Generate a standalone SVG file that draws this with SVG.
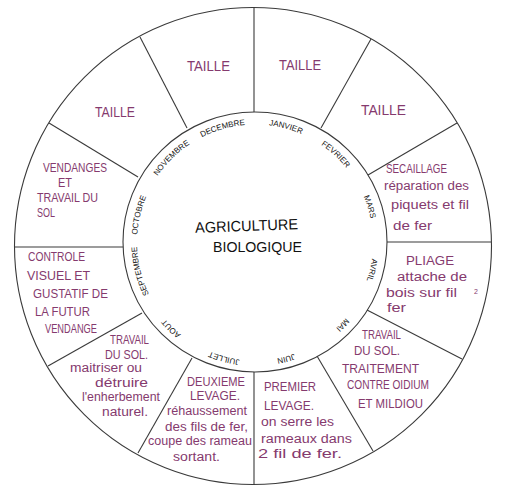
<svg xmlns="http://www.w3.org/2000/svg" xmlns:xlink="http://www.w3.org/1999/xlink" width="508" height="496" viewBox="0 0 508 496">
<style>
  .ln{fill:none;stroke:#3a3a3a;stroke-width:1.1}
  .t{font-family:"Liberation Sans",Arial,sans-serif;fill:#853a6e;font-size:12px}
  .c{font-size:13px}
  .ta{font-size:15px}
  .m{font-family:"Liberation Sans",Arial,sans-serif;fill:#111;font-size:8px;text-anchor:middle}
  .ctr{font-family:"Liberation Sans",Arial,sans-serif;fill:#111;font-size:15px}
</style>
<defs>
  <path id="mp" d="M 255 124.5 A 118 118 0 1 1 255 360.5 A 118 118 0 1 1 255 124.5"/>
</defs>
<rect width="508" height="496" fill="#fff"/>
<g id="wheel">
  <circle class="ln" cx="253" cy="246" r="238.5"/>
  <ellipse class="ln" cx="255" cy="242" rx="132" ry="130"/>
</g>
<g id="connectors">
  <line class="ln" x1="254" y1="7" x2="254" y2="112"/>
  <line class="ln" x1="371" y1="39" x2="321" y2="128"/>
  <line class="ln" x1="457" y1="123" x2="368" y2="175"/>
  <line class="ln" x1="491" y1="242" x2="387" y2="242"/>
  <line class="ln" x1="462" y1="359" x2="367" y2="310"/>
  <line class="ln" x1="373" y1="451" x2="317" y2="356"/>
  <line class="ln" x1="254" y1="485" x2="254" y2="372"/>
  <line class="ln" x1="138" y1="453" x2="192" y2="358"/>
  <line class="ln" x1="48" y1="366" x2="142" y2="313"/>
  <line class="ln" x1="15" y1="247" x2="123" y2="247"/>
  <line class="ln" x1="49" y1="123" x2="138" y2="177"/>
  <line class="ln" x1="140" y1="37" x2="187" y2="128"/>
</g>
<g id="months">
  <text class="m"><textPath xlink:href="#mp" href="#mp" startOffset="4.17%">JANVIER</textPath></text>
  <text class="m"><textPath xlink:href="#mp" href="#mp" startOffset="11.8%">FEVRIER</textPath></text>
  <text class="m"><textPath xlink:href="#mp" href="#mp" startOffset="20.2%">MARS</textPath></text>
  <text class="m"><textPath xlink:href="#mp" href="#mp" startOffset="28.7%">AVRIL</textPath></text>
  <text class="m"><textPath xlink:href="#mp" href="#mp" startOffset="37%">MAI</textPath></text>
  <text class="m"><textPath xlink:href="#mp" href="#mp" startOffset="45.83%">JUIN</textPath></text>
  <text class="m"><textPath xlink:href="#mp" href="#mp" startOffset="54.17%">JUILLET</textPath></text>
  <text class="m"><textPath xlink:href="#mp" href="#mp" startOffset="62.3%">AOUT</textPath></text>
  <text class="m"><textPath xlink:href="#mp" href="#mp" startOffset="71.1%">SEPTEMBRE</textPath></text>
  <text class="m"><textPath xlink:href="#mp" href="#mp" startOffset="78.7%">OCTOBRE</textPath></text>
  <text class="m"><textPath xlink:href="#mp" href="#mp" startOffset="87.6%">NOVEMBRE</textPath></text>
  <text class="m"><textPath xlink:href="#mp" href="#mp" startOffset="95.6%">DECEMBRE</textPath></text>
</g>
<g id="center">
  <text class="ctr" x="195" y="231" textLength="103" lengthAdjust="spacingAndGlyphs" transform="rotate(-2 246 226)">AGRICULTURE</text>
  <text class="ctr" x="213" y="252" textLength="89" lengthAdjust="spacingAndGlyphs">BIOLOGIQUE</text>
</g>
<g id="s-janvier">
  <text class="t ta" x="279" y="70" textLength="42" lengthAdjust="spacingAndGlyphs">TAILLE</text>
</g>
<g id="s-fevrier">
  <text class="t ta" x="361" y="115" textLength="45" lengthAdjust="spacingAndGlyphs">TAILLE</text>
</g>
<g id="s-mars">
  <text class="t c" x="386" y="173" textLength="61" lengthAdjust="spacingAndGlyphs">SECAILLAGE</text>
  <text class="t" x="384" y="190" textLength="85" lengthAdjust="spacingAndGlyphs">réparation des</text>
  <text class="t" x="391" y="209" textLength="78" lengthAdjust="spacingAndGlyphs">piquets et fil</text>
  <text class="t" x="393" y="230" textLength="39" lengthAdjust="spacingAndGlyphs">de fer</text>
</g>
<g id="s-avril">
  <text class="t c" x="406" y="265" textLength="48" lengthAdjust="spacingAndGlyphs">PLIAGE</text>
  <text class="t" x="397" y="281" textLength="70" lengthAdjust="spacingAndGlyphs">attache de</text>
  <text class="t" x="386" y="297" textLength="71" lengthAdjust="spacingAndGlyphs">bois sur fil</text>
  <text class="t" x="474" y="294" style="font-size:7px">2</text>
  <text class="t" x="387" y="312" textLength="19" lengthAdjust="spacingAndGlyphs">fer</text>
</g>
<g id="s-mai">
  <text class="t c" x="362" y="339" textLength="39" lengthAdjust="spacingAndGlyphs">TRAVAIL</text>
  <text class="t c" x="354" y="355" textLength="46" lengthAdjust="spacingAndGlyphs">DU SOL.</text>
  <text class="t c" x="342" y="373" textLength="77" lengthAdjust="spacingAndGlyphs">TRAITEMENT</text>
  <text class="t c" x="347" y="389" textLength="82" lengthAdjust="spacingAndGlyphs">CONTRE OIDIUM</text>
  <text class="t c" x="358" y="408" textLength="65" lengthAdjust="spacingAndGlyphs">ET MILDIOU</text>
</g>
<g id="s-juin">
  <text class="t c" x="264" y="391" textLength="52" lengthAdjust="spacingAndGlyphs">PREMIER</text>
  <text class="t c" x="264" y="410" textLength="50" lengthAdjust="spacingAndGlyphs">LEVAGE.</text>
  <text class="t" x="261" y="426" textLength="73" lengthAdjust="spacingAndGlyphs">on serre les</text>
  <text class="t" x="261" y="443" textLength="91" lengthAdjust="spacingAndGlyphs">rameaux dans</text>
  <text class="t" x="258" y="458" textLength="84" lengthAdjust="spacingAndGlyphs">2 fil de fer.</text>
</g>
<g id="s-juillet">
  <text class="t c" x="187" y="386" textLength="58" lengthAdjust="spacingAndGlyphs">DEUXIEME</text>
  <text class="t c" x="190" y="400" textLength="50" lengthAdjust="spacingAndGlyphs">LEVAGE.</text>
  <text class="t" x="167" y="415" textLength="80" lengthAdjust="spacingAndGlyphs">réhaussement</text>
  <text class="t" x="165" y="431" textLength="83" lengthAdjust="spacingAndGlyphs">des fils de fer,</text>
  <text class="t" x="148" y="445" textLength="104" lengthAdjust="spacingAndGlyphs">coupe des rameau</text>
  <text class="t" x="173" y="461" textLength="47" lengthAdjust="spacingAndGlyphs">sortant.</text>
</g>
<g id="s-aout">
  <text class="t c" x="110" y="344" textLength="39" lengthAdjust="spacingAndGlyphs">TRAVAIL</text>
  <text class="t c" x="105" y="359" textLength="43" lengthAdjust="spacingAndGlyphs">DU SOL.</text>
  <text class="t" x="70" y="372" textLength="72" lengthAdjust="spacingAndGlyphs">maitriser ou</text>
  <text class="t" x="95" y="387" textLength="53" lengthAdjust="spacingAndGlyphs">détruire</text>
  <text class="t" x="82" y="401" textLength="78" lengthAdjust="spacingAndGlyphs">l'enherbement</text>
  <text class="t" x="102" y="416" textLength="46" lengthAdjust="spacingAndGlyphs">naturel.</text>
</g>
<g id="s-septembre">
  <text class="t c" x="28" y="261" textLength="57" lengthAdjust="spacingAndGlyphs">CONTROLE</text>
  <text class="t c" x="27" y="280" textLength="63" lengthAdjust="spacingAndGlyphs">VISUEL ET</text>
  <text class="t c" x="33" y="298" textLength="75" lengthAdjust="spacingAndGlyphs">GUSTATIF DE</text>
  <text class="t c" x="35" y="316" textLength="55" lengthAdjust="spacingAndGlyphs">LA FUTUR</text>
  <text class="t c" x="45" y="333" textLength="52" lengthAdjust="spacingAndGlyphs">VENDANGE</text>
</g>
<g id="s-octobre">
  <text class="t c" x="43" y="172" textLength="64" lengthAdjust="spacingAndGlyphs">VENDANGES</text>
  <text class="t c" x="58" y="187" textLength="14" lengthAdjust="spacingAndGlyphs">ET</text>
  <text class="t c" x="37" y="202" textLength="61" lengthAdjust="spacingAndGlyphs">TRAVAIL DU</text>
  <text class="t c" x="37" y="217" textLength="18" lengthAdjust="spacingAndGlyphs">SOL</text>
</g>
<g id="s-novembre">
  <text class="t ta" x="95" y="117" textLength="40" lengthAdjust="spacingAndGlyphs">TAILLE</text>
</g>
<g id="s-decembre">
  <text class="t ta" x="187" y="71" textLength="43" lengthAdjust="spacingAndGlyphs">TAILLE</text>
</g>
</svg>
